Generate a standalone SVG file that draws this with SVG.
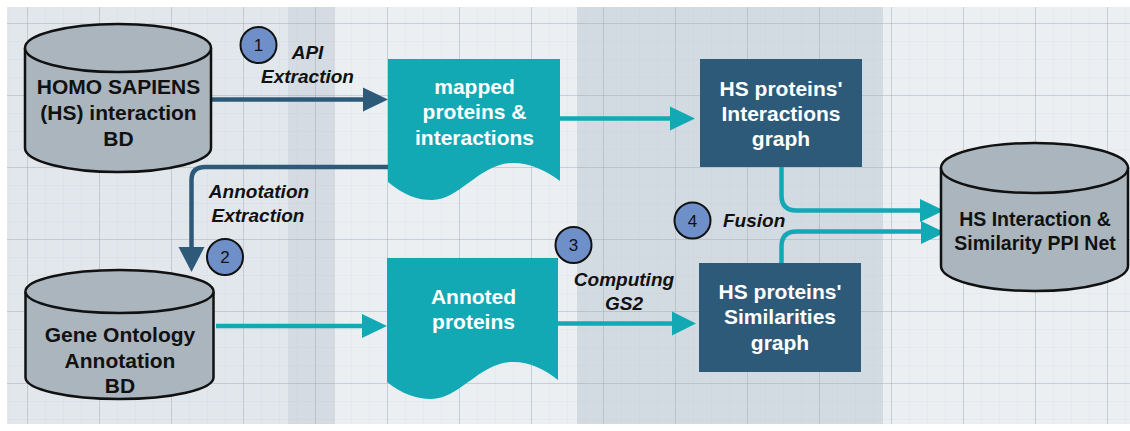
<svg xmlns="http://www.w3.org/2000/svg" width="1130" height="431" viewBox="0 0 1130 431">
<defs>
<pattern id="minor" x="9" y="5" width="18" height="18" patternUnits="userSpaceOnUse">
<path d="M0,0 H18 M0,0 V18" fill="none" stroke="#aab4be" stroke-opacity="0.18" stroke-width="1"/>
</pattern>
<pattern id="major" x="27" y="23" width="72" height="72" patternUnits="userSpaceOnUse">
<path d="M0,0.5 H72 M0.5,0 V72" fill="none" stroke="#9aa6b2" stroke-opacity="0.4" stroke-width="1"/>
</pattern>
<style>
.cyl{fill:#aab5be;stroke:#111;stroke-width:2.5}
.doc{fill:#12a9b5}
.box{fill:#2e5a7a}
.dark{fill:#111;font-family:"Liberation Sans",Arial,sans-serif;font-weight:bold;text-anchor:middle}
.light{fill:#fff;font-family:"Liberation Sans",Arial,sans-serif;font-weight:bold;font-size:21px;text-anchor:middle}
.lbl{fill:#111;font-family:"Liberation Sans",Arial,sans-serif;font-weight:bold;font-style:italic;font-size:19px;text-anchor:middle}
.num{fill:#6f8fc8;stroke:#111;stroke-width:2}
.numt{fill:#111;font-family:"Liberation Sans",Arial,sans-serif;font-size:17px;text-anchor:middle}
.ln-d{fill:none;stroke:#2e5a7a;stroke-width:4.5}
.ln-t{fill:none;stroke:#12a9b5;stroke-width:4.5}
.ah-d{fill:#2e5a7a}
.ah-t{fill:#12a9b5}
</style>
</defs>
<rect x="0" y="0" width="1130" height="431" fill="#ffffff"/>
<g id="background">
<rect x="7" y="7" width="1123" height="417" fill="#ebeff2"/>
<rect x="7" y="7" width="281" height="417" fill="#e2e7ec"/>
<rect x="288" y="7" width="47" height="417" fill="#d4dbe2"/>
<rect x="577" y="7" width="306" height="417" fill="#d3dbe2"/>
<rect x="7" y="7" width="1123" height="417" fill="url(#minor)"/>
<rect x="7" y="7" width="1123" height="417" fill="url(#major)"/>
</g>
<g id="connectors">
<path class="ln-d" d="M211,99.5 H365"/>
<polygon class="ah-d" points="388,99.5 363,87.5 363,111.5"/>
<path class="ln-d" d="M388,167 H205 Q191.5,167 191.5,180 V249"/>
<polygon class="ah-d" points="191.5,272 178.5,247 204.5,247"/>
<path class="ln-t" d="M216,326 H364"/>
<polygon class="ah-t" points="387,326 362,314 362,338"/>
<path class="ln-t" d="M560,118.5 H672"/>
<polygon class="ah-t" points="695,118.5 670,106.5 670,130.5"/>
<path class="ln-t" d="M558,323.5 H674"/>
<polygon class="ah-t" points="696,323.5 672,311.5 672,335.5"/>
<path class="ln-t" d="M781.5,167 V195.5 Q781.5,210.5 796.5,210.5 H922"/>
<polygon class="ah-t" points="944,210.5 920,199 920,222"/>
<path class="ln-t" d="M781.5,263 V246.5 Q781.5,231.5 796.5,231.5 H923"/>
<polygon class="ah-t" points="945,232.5 921,221 921,244"/>
</g>
<g id="labels">
<text class="lbl" x="307.5" y="59">API</text>
<text class="lbl" x="307.5" y="83">Extraction</text>
<text class="lbl" x="259" y="198">Annotation</text>
<text class="lbl" x="258" y="222">Extraction</text>
<text class="lbl" x="624" y="286">Computing</text>
<text class="lbl" x="624" y="310">GS2</text>
<text class="lbl" x="723" y="227" style="text-anchor:start">Fusion</text>
</g>
<g id="step1"><circle class="num" cx="258.5" cy="45" r="18"/><text class="numt" x="258.5" y="51">1</text></g>
<g id="step2"><circle class="num" cx="225" cy="257" r="18"/><text class="numt" x="225" y="263">2</text></g>
<g id="step3"><circle class="num" cx="573.5" cy="245" r="18"/><text class="numt" x="573.5" y="251">3</text></g>
<g id="step4"><circle class="num" cx="692.5" cy="220.5" r="18"/><text class="numt" x="692.5" y="226.5">4</text></g>
<g id="hs-db">
<path class="cyl" d="M25,48 V148 A93,24 0 0 0 211,148 V48 A93,24 0 0 0 25,48 Z"/>
<path class="cyl" d="M25,48 A93,24 0 0 0 211,48" fill="none"/>
<text class="dark" font-size="21" x="118.5" y="94">HOMO SAPIENS</text>
<text class="dark" font-size="21" x="118.5" y="120">(HS) interaction</text>
<text class="dark" font-size="21" x="118.5" y="146">BD</text>
</g>
<g id="go-db">
<path class="cyl" d="M25.5,291.5 V377.5 A94,21.5 0 0 0 213.5,377.5 V291.5 A94,21.5 0 0 0 25.5,291.5 Z"/>
<path class="cyl" d="M25.5,291.5 A94,21.5 0 0 0 213.5,291.5" fill="none"/>
<text class="dark" font-size="21" x="120" y="342">Gene Ontology</text>
<text class="dark" font-size="21" x="120" y="368">Annotation</text>
<text class="dark" font-size="21" x="120" y="393">BD</text>
</g>
<g id="ppi-net">
<path class="cyl" d="M941,168 V266 A93.5,25 0 0 0 1128,266 V168 A93.5,25 0 0 0 941,168 Z"/>
<path class="cyl" d="M941,168 A93.5,25 0 0 0 1128,168" fill="none"/>
<text class="dark" font-size="19.5" x="1035" y="226">HS Interaction &amp;</text>
<text class="dark" font-size="19.5" x="1035" y="250">Similarity PPI Net</text>
</g>
<g id="mapped-doc">
<path class="doc" d="M388,59 H560 V181 C545,170 530,163 513,163 C480,163 460,200 432,200 C418,200 405,196 388,182 Z"/>
<text class="light" x="474.5" y="94">mapped</text>
<text class="light" x="474.5" y="119">proteins &amp;</text>
<text class="light" x="474.5" y="145">interactions</text>
</g>
<g id="annoted-doc">
<path class="doc" d="M387,258 H558 V380 C544,369 530,362 513,362 C480,362 460,399 431,399 C417,399 402,394 387,382 Z"/>
<text class="light" x="473.5" y="304">Annoted</text>
<text class="light" x="473.5" y="329">proteins</text>
</g>
<g id="interactions-graph">
<rect class="box" x="700" y="59" width="162" height="108"/>
<text class="light" x="781" y="96">HS proteins'</text>
<text class="light" x="781" y="121">Interactions</text>
<text class="light" x="781" y="146">graph</text>
</g>
<g id="similarities-graph">
<rect class="box" x="699" y="263" width="162" height="109"/>
<text class="light" x="780" y="299">HS proteins'</text>
<text class="light" x="780" y="324">Similarities</text>
<text class="light" x="780" y="350">graph</text>
</g>
</svg>
